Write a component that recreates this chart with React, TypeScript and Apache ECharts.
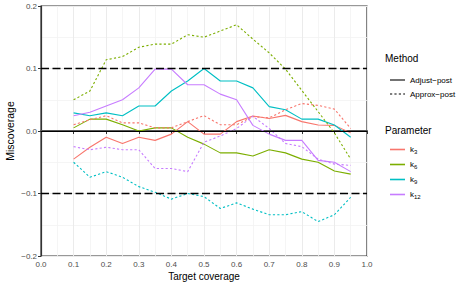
import React, { useEffect, useRef } from "react";
import * as echarts from "echarts";

const X_VALUES = [0.1, 0.15, 0.2, 0.25, 0.3, 0.35, 0.4, 0.45, 0.5, 0.55, 0.6, 0.65, 0.7, 0.75, 0.8, 0.85, 0.9, 0.95];

const PARAMS = ["k3", "k6", "k9", "k12"];
const PARAM_COLORS = ["#F8766D", "#7CAE00", "#00BFC4", "#C77CFF"];
const METHODS = ["Adjust−post", "Approx−post"];

const K3_ADJUST = [-0.045, -0.026, -0.01, -0.02, -0.01, -0.015, -0.005, 0.015, -0.005, -0.005, 0.015, 0.024, 0.02, 0.025, 0.015, 0.0095, 0.009, -0.003];
const K3_APPROX = [0.01, 0.018, 0.0245, 0.013, 0.013, 0.005, 0.005, 0.015, 0.0245, 0.01, 0.01, 0.023, 0.021, 0.034, 0.044, 0.041, 0.035, 0.004];
const K6_ADJUST = [0.005, 0.019, 0.019, 0.01, 0.0, 0.005, 0.005, -0.01, -0.021, -0.035, -0.035, -0.04, -0.03, -0.035, -0.045, -0.05, -0.064, -0.069];
const K6_APPROX = [0.05, 0.064, 0.114, 0.119, 0.134, 0.139, 0.139, 0.154, 0.15, 0.16, 0.17, 0.147, 0.125, 0.099, 0.065, 0.031, -0.003, -0.045];
const K9_ADJUST = [0.029, 0.0245, 0.029, 0.0245, 0.04, 0.04, 0.064, 0.08, 0.1, 0.08, 0.08, 0.069, 0.039, 0.034, 0.019, 0.019, 0.0095, -0.01];
const K9_APPROX = [-0.05, -0.074, -0.065, -0.074, -0.089, -0.098, -0.109, -0.1, -0.105, -0.124, -0.115, -0.125, -0.134, -0.134, -0.129, -0.145, -0.134, -0.106];
const K12_ADJUST = [0.0245, 0.03, 0.04, 0.05, 0.069, 0.099, 0.099, 0.074, 0.074, 0.059, 0.05, 0.009, -0.005, -0.015, -0.015, -0.047, -0.05, -0.065];
const K12_APPROX = [-0.025, -0.03, -0.026, -0.03, -0.03, -0.06, -0.06, -0.065, -0.018, -0.008, 0.004, 0.0235, 0.004, -0.02, -0.025, -0.045, -0.053, -0.055];

const ADJUST_VALUES = [K3_ADJUST, K6_ADJUST, K9_ADJUST, K12_ADJUST];
const APPROX_VALUES = [K3_APPROX, K6_APPROX, K9_APPROX, K12_APPROX];

const REF_SOLID = [0];
const REF_DASHED = [0.1, -0.1];

const X_TICKS_INTERVAL = 0.1;
const Y_TICKS_INTERVAL = 0.1;

const FONT = "Liberation Sans, Arial, Helvetica, sans-serif";
const DOTTED: number[] = [2.2, 2.2];

const ICON_SOLID = "path://M0,0h15v1.1h-15z";
const ICON_DOTTED = "path://M0,0h2.2v1.1h-2.2z M4.4,0h2.2v1.1h-2.2z M8.8,0h2.2v1.1h-2.2z M13.2,0h1.8v1.1h-1.8z";
const ICON_PARAM = "path://M0,0h15v1.6h-15z";

export default function App() {
  const ref = useRef<HTMLDivElement>(null);

  useEffect(() => {
    if (!ref.current) return;
    const chart = echarts.init(ref.current, null, { renderer: "svg" });

    const fmt = (v: number) => (v < -1e-9 ? "−" : "") + Math.abs(v).toFixed(1);

    const series: any[] = [];
    series.push({
      type: "line",
      name: "__ref",
      data: [],
      silent: true,
      z: 1,
      markLine: {
        silent: true,
        symbol: ["none", "none"],
        label: { show: false },
        animation: false,
        data: [
          ...REF_SOLID.map((y) => ({ yAxis: y, lineStyle: { color: "#000", width: 1.1, type: "solid" } })),
          ...REF_DASHED.map((y) => ({ yAxis: y, lineStyle: { color: "#000", width: 1.4, type: [8, 3.5] } })),
        ],
      },
    });
    PARAMS.forEach((p, pi) => {
      series.push({
        type: "line",
        name: p,
        symbol: "none",
        z: 3,
        color: PARAM_COLORS[pi],
        lineStyle: { color: PARAM_COLORS[pi], width: 1.1, type: "solid" },
        data: X_VALUES.map((x, i) => [x, ADJUST_VALUES[pi][i]]),
      });
    });
    PARAMS.forEach((p, pi) => {
      series.push({
        type: "line",
        name: p,
        symbol: "none",
        z: 3,
        color: PARAM_COLORS[pi],
        lineStyle: { color: PARAM_COLORS[pi], width: 1.1, type: DOTTED },
        data: X_VALUES.map((x, i) => [x, APPROX_VALUES[pi][i]]),
      });
    });
    METHODS.forEach((m, mi) => {
      series.push({
        type: "line",
        name: m,
        symbol: "none",
        color: "#000",
        lineStyle: { color: "#000", width: 1.1, type: mi === 0 ? "solid" : DOTTED },
        data: [],
      });
    });

    const legendCommon = {
      orient: "vertical" as const,
      left: 385,
      itemWidth: 15,
      itemHeight: 10,
      selectedMode: false,
      symbolKeepAspect: true,
    };

    chart.setOption({
      animation: false,
      backgroundColor: "#fff",
      textStyle: { fontFamily: FONT },
      grid: {
        left: 41,
        right: 101,
        top: 6,
        bottom: 32,
        show: true,
        borderColor: "#333",
        borderWidth: 1.2,
        backgroundColor: "transparent",
        outerBoundsMode: "none",
      },
      legend: [
        {
          ...legendCommon,
          top: 70,
          itemGap: 4,
          textStyle: { fontFamily: FONT, fontSize: 8, color: "#000", lineHeight: 10 },
          data: [
            { name: METHODS[0], icon: ICON_SOLID },
            { name: METHODS[1], icon: ICON_DOTTED },
          ],
        },
        {
          ...legendCommon,
          top: 139,
          itemGap: 4,
          data: PARAMS.map((p) => ({ name: p, icon: ICON_PARAM })),
          formatter: (name: string) => "k{s|" + name.slice(1) + "}",
          textStyle: {
            fontFamily: FONT,
            fontSize: 8,
            color: "#000",
            lineHeight: 11,
            rich: {
              s: { fontFamily: FONT, fontSize: 6, lineHeight: 6, verticalAlign: "bottom", color: "#000" },
            },
          },
        },
      ],
      graphic: [
        {
          type: "text",
          left: 385,
          top: 53,
          style: { text: "Method", fontFamily: FONT, fontSize: 10, fill: "#000" },
        },
        {
          type: "text",
          left: 385,
          top: 125,
          style: { text: "Parameter", fontFamily: FONT, fontSize: 10, fill: "#000" },
        },
      ],
      xAxis: {
        type: "value",
        min: 0,
        max: 1,
        interval: X_TICKS_INTERVAL,
        name: "Target coverage",
        nameLocation: "middle",
        nameGap: 15,
        nameMoveOverlap: false,
        nameTextStyle: { fontFamily: FONT, fontSize: 10, color: "#000" },
        axisLine: { show: true, lineStyle: { color: "#555", width: 2 } },
        axisTick: { show: true, length: 3, lineStyle: { color: "#333", width: 1 } },
        axisLabel: { fontSize: 8, color: "#4D4D4D", margin: 4, fontFamily: FONT, formatter: fmt },
        splitLine: { show: true, lineStyle: { color: "#EBEBEB", width: 1 } },
        minorTick: { show: false, splitNumber: 2 },
        minorSplitLine: { show: true, lineStyle: { color: "#F3F3F3", width: 0.8 } },
      },
      yAxis: {
        type: "value",
        min: -0.2,
        max: 0.2,
        interval: Y_TICKS_INTERVAL,
        name: "Miscoverage",
        nameLocation: "middle",
        nameRotate: 90,
        nameGap: 26,
        nameMoveOverlap: false,
        nameTextStyle: { fontFamily: FONT, fontSize: 10.5, color: "#000" },
        axisLine: { show: true, lineStyle: { color: "#333", width: 1.2 } },
        axisTick: { show: true, length: 3, lineStyle: { color: "#333", width: 1 } },
        axisLabel: { fontSize: 8, color: "#4D4D4D", margin: 4, fontFamily: FONT, formatter: fmt },
        splitLine: { show: true, lineStyle: { color: "#EBEBEB", width: 1 } },
        minorTick: { show: false, splitNumber: 2 },
        minorSplitLine: { show: true, lineStyle: { color: "#F3F3F3", width: 0.8 } },
      },
      series,
    });

    return () => chart.dispose();
  }, []);

  return (
    <div
      ref={ref}
      style={{ position: "fixed", left: 0, top: 0, width: 468, height: 288, background: "#fff" }}
    />
  );
}
